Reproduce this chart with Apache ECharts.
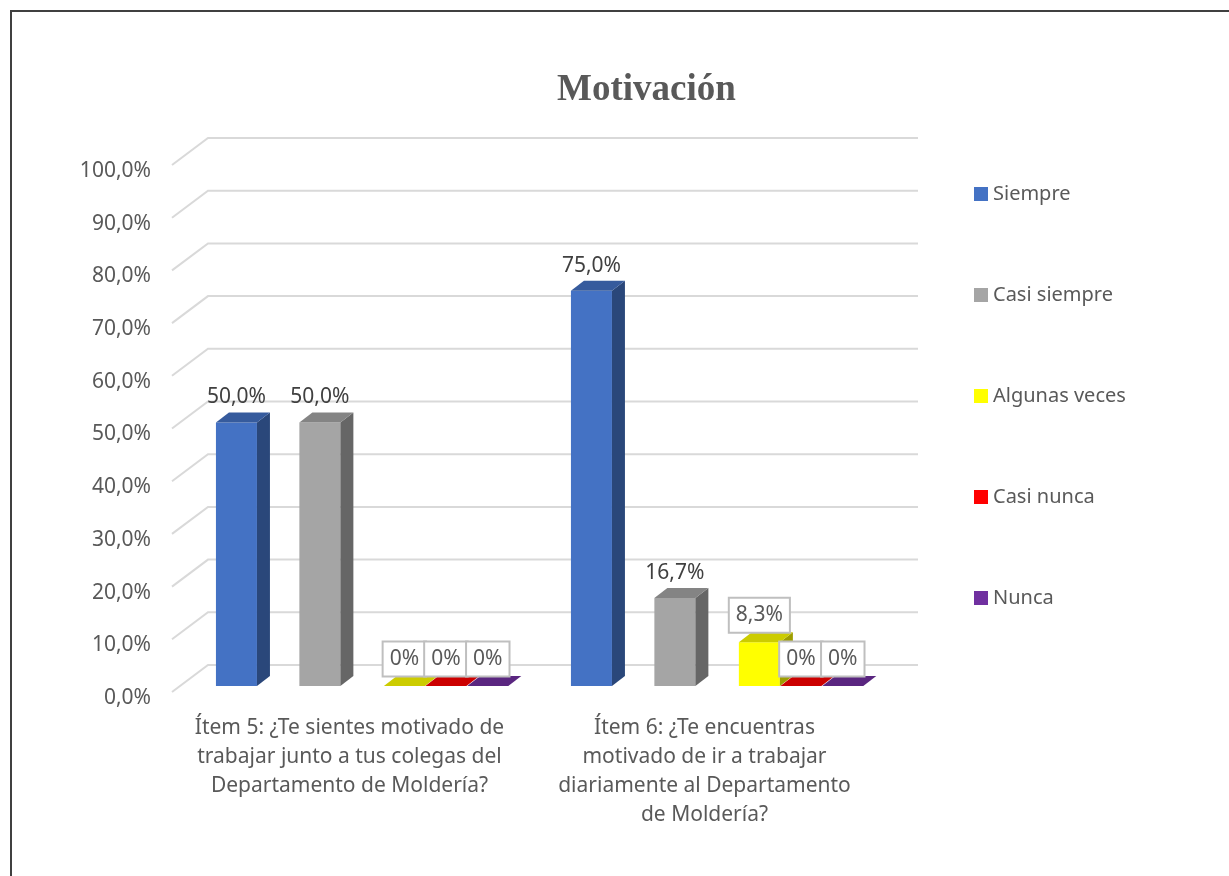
<!DOCTYPE html>
<html>
<head>
<meta charset="utf-8">
<script src="https://cdn.jsdelivr.net/npm/echarts@6/dist/echarts.min.js"></script>
<style>
  html, body { margin: 0; padding: 0; background: #fff; }
  #chart { width: 1229px; height: 876px; }
</style>
</head>
<body>
<div id="chart"></div>
<script>
// data
const categories = [
  'Ítem 5: ¿Te sientes motivado de\ntrabajar junto a tus colegas del\nDepartamento de Moldería?',
  'Ítem 6: ¿Te encuentras\nmotivado de ir a trabajar\ndiariamente al Departamento\nde Moldería?'
];
const seriesNames = ['Siempre', 'Casi siempre', 'Algunas veces', 'Casi nunca', 'Nunca'];
const siempre = [50.0, 75.0];
const casiSiempre = [50.0, 16.7];
const algunasVeces = [0, 8.3];
const casiNunca = [0, 0];
const nunca = [0, 0];
const yTicks = [0, 10, 20, 30, 40, 50, 60, 70, 80, 90, 100];

const seriesValues = [siempre, casiSiempre, algunasVeces, casiNunca, nunca];
const colors = ['#4472C4', '#A5A5A5', '#FFFF00', '#FF0000', '#7030A0'];
// where each bar sits inside its category (fraction of the band)
const barOffsets = [-0.341, -0.106, 0.132, 0.249, 0.367];
const barWidthFrac = 0.1155;
const depthX = 13, depthY = -10;   // bar depth
const font = 'Noto Sans';

function shade(hex, f) {
  let r = parseInt(hex.slice(1, 3), 16), g = parseInt(hex.slice(3, 5), 16), b = parseInt(hex.slice(5, 7), 16);
  r = Math.round(r * f); g = Math.round(g * f); b = Math.round(b * f);
  return 'rgb(' + r + ',' + g + ',' + b + ')';
}

function fmt(v) {
  if (v === 0) return '0%';
  return v.toFixed(1).replace('.', ',') + '%';
}

// back wall gridlines, with the diagonal stub to the front
function renderWall(params, api) {
  const v = api.value(1);
  const band = api.size([1, 0])[0];
  const left = api.coord([0, v])[0] - band / 2;
  const right = api.coord([categories.length - 1, v])[0] + band / 2;
  const y = api.coord([0, v])[1];
  return {
    type: 'polyline',
    shape: { points: [[left - 8, y + 6], [left + 28, y - 21], [right + 28, y - 21]] },
    style: { stroke: '#d9d9d9', lineWidth: 2, fill: null },
    silent: true
  };
}

function makeBarRenderer(s) {
  return function (params, api) {
    const cat = api.value(0), val = api.value(1);
    const band = api.size([1, 0])[0];
    const cx = api.coord([cat, 0])[0] + barOffsets[s] * band;
    const w = band * barWidthFrac;
    const y0 = api.coord([cat, 0])[1];
    const y1 = api.coord([cat, val])[1];
    const x0 = cx - w / 2, x1 = cx + w / 2;
    const c = colors[s];
    const children = [];
    if (val > 0) {
      children.push({
        type: 'rect', shape: { x: x0, y: y1, width: w, height: y0 - y1 },
        style: { fill: c }
      });
      children.push({
        type: 'polygon',
        shape: { points: [[x1, y1], [x1 + depthX, y1 + depthY], [x1 + depthX, y0 + depthY], [x1, y0]] },
        style: { fill: shade(c, 0.62) }
      });
    }
    children.push({
      type: 'polygon',
      shape: { points: [[x0, y1], [x1, y1], [x1 + depthX, y1 + depthY], [x0 + depthX, y1 + depthY]] },
      style: { fill: shade(c, 0.8) }
    });
    const boxed = val < 10;
    children.push({
      type: 'text',
      style: boxed ? {
        text: fmt(val), x: cx, y: y1 - 27, align: 'center', verticalAlign: 'middle',
        fontFamily: font, fontSize: 21, fill: '#595959',
        backgroundColor: '#fff', borderColor: '#bfbfbf', borderWidth: 2,
        padding: [6, 6, 6, 6]
      } : {
        text: fmt(val), x: cx, y: y1 - 25, align: 'center', verticalAlign: 'middle',
        fontFamily: font, fontSize: 21, fill: '#404040'
      },
      z2: 10
    });
    return { type: 'group', children: children };
  };
}

const chart = echarts.init(document.getElementById('chart'));

const series = [{
  name: 'wall',
  type: 'custom',
  renderItem: renderWall,
  data: yTicks.map(v => [0, v]),
  encode: { x: 0, y: 1 },
  clip: false,
  silent: true,
  z: 1
}];
seriesNames.forEach((name, s) => {
  series.push({
    name: name,
    type: 'custom',
    renderItem: makeBarRenderer(s),
    data: seriesValues[s].map((v, i) => [i, v]),
    encode: { x: 0, y: 1 },
    itemStyle: { color: colors[s] },
    clip: false,
    z: 2 + s
  });
});

chart.setOption({
  animation: false,
  backgroundColor: '#fff',
  title: {
    text: 'Motivación',
    left: 552,
    top: 67,
    textStyle: { fontFamily: 'Liberation Serif', fontWeight: 'bold', fontSize: 37, color: '#595959' }
  },
  legend: {
    data: seriesNames,
    orient: 'vertical',
    left: 969,
    top: 178,
    itemWidth: 14,
    itemHeight: 14,
    itemGap: 79,
    icon: 'rect',
    textStyle: { fontFamily: font, fontSize: 20, color: '#595959', lineHeight: 22 }
  },
  grid: { left: 180, right: 339, top: 159, bottom: 190 },
  xAxis: {
    type: 'category',
    data: categories,
    axisLine: { show: false },
    axisTick: { show: false },
    axisLabel: {
      interval: 0, margin: 28, fontFamily: font, fontSize: 21, lineHeight: 29,
      color: '#595959', padding: [0, 16, 0, 0]
    }
  },
  yAxis: {
    type: 'value',
    min: 0, max: 100, interval: 10,
    splitLine: { show: false },
    axisLine: { show: false },
    axisTick: { show: false },
    axisLabel: {
      margin: 29, fontFamily: font, fontSize: 21, color: '#595959',
      verticalAlign: 'top', lineHeight: 24,
      formatter: v => v.toFixed(1).replace('.', ',') + '%'
    }
  },
  graphic: [{
    type: 'rect',
    shape: { x: 11, y: 11, width: 1400, height: 1000 },
    style: { fill: null, stroke: '#404040', lineWidth: 2 },
    silent: true
  }],
  series: series
});
</script>
</body>
</html>
